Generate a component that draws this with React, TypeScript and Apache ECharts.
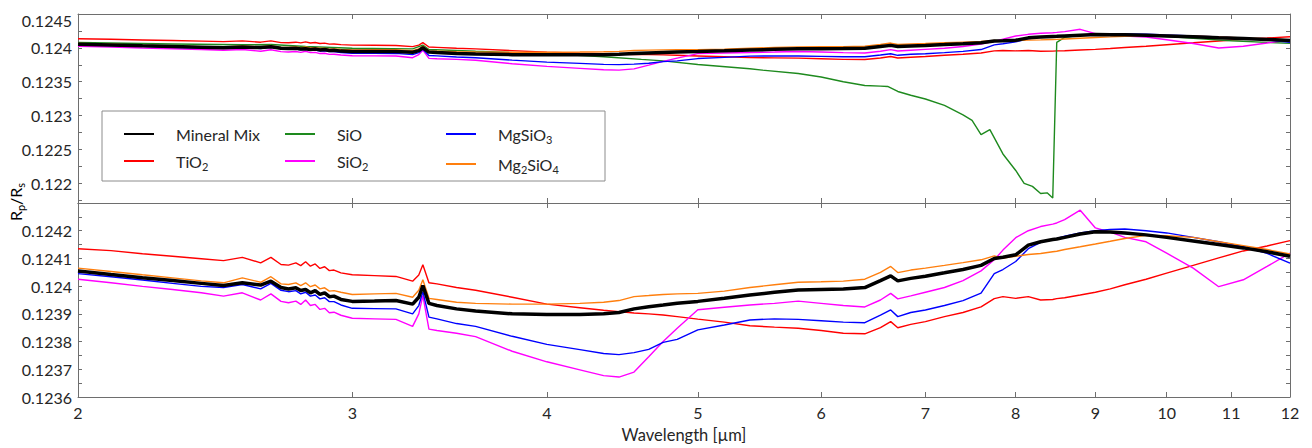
import React, { useEffect, useRef } from 'react';
import * as echarts from 'echarts';

// Wavelength grid (µm) shared by the mineral curves
const wavelength = [
  2.0, 2.1, 2.2, 2.3, 2.4, 2.48, 2.55, 2.62, 2.66, 2.7,
  2.73, 2.76, 2.78, 2.8, 2.82, 2.84, 2.86, 2.88, 2.9, 2.92,
  2.95, 3.0, 3.1, 3.2, 3.28, 3.31,
  3.33, 3.36, 3.4, 3.5, 3.6, 3.8, 4.0, 4.2, 4.35, 4.45,
  4.55, 4.65, 4.75, 4.85, 5.0, 5.2, 5.4, 5.6, 5.8, 6.0,
  6.2, 6.4, 6.55, 6.65, 6.72, 6.85, 7.0, 7.2, 7.4, 7.6,
  7.75, 7.85, 8.0, 8.15, 8.3, 8.45, 8.5, 8.6, 8.8, 9.0,
  9.2, 9.4, 9.7, 10.0, 10.4, 10.8, 11.2, 11.6, 12.0,
];

const mineralMix = [
  0.124055, 0.124042, 0.12403, 0.12402, 0.12401, 0.124002, 0.124012, 0.124004, 0.124018, 0.123995,
  0.12399, 0.123994, 0.123984, 0.123988, 0.123976, 0.123984, 0.12397, 0.123976, 0.123962, 0.123964,
  0.123952, 0.123945, 0.123946, 0.123948, 0.123935, 0.12396,
  0.124002, 0.123938, 0.12393, 0.123918, 0.12391, 0.1239, 0.123898, 0.123898, 0.1239, 0.123905,
  0.123918, 0.123926, 0.123932, 0.123938, 0.123945, 0.123956, 0.123968, 0.123978, 0.123986, 0.123988,
  0.12399, 0.123995, 0.12402, 0.124037, 0.124019, 0.124028, 0.124036, 0.124048, 0.12406, 0.124075,
  0.1241, 0.124104, 0.124113, 0.124148, 0.12416, 0.124168, 0.12417, 0.124176, 0.124188, 0.124196,
  0.124195, 0.124192, 0.124185, 0.124176, 0.124163, 0.12415, 0.124138, 0.124124, 0.124108,
];

const tio2 = [
  0.124135, 0.124128, 0.124117, 0.124108, 0.124099, 0.124092, 0.124104, 0.124084, 0.124104, 0.124078,
  0.124076, 0.124084, 0.124074, 0.124088, 0.124072, 0.12408, 0.124064, 0.12407, 0.124056, 0.124058,
  0.124048, 0.124041, 0.124038, 0.124035, 0.124018, 0.12404,
  0.124077, 0.124012, 0.124008, 0.123995, 0.123985, 0.12396, 0.123935, 0.123922, 0.123913, 0.123908,
  0.123903, 0.1239, 0.123896, 0.12389, 0.123881, 0.12387, 0.123857, 0.123852, 0.123848, 0.12384,
  0.12383, 0.123828, 0.12385, 0.123872, 0.12385, 0.123862, 0.123872, 0.12389, 0.123905, 0.123925,
  0.123955, 0.123962, 0.123956, 0.123962, 0.12395, 0.123952, 0.123955, 0.123958, 0.123968, 0.123978,
  0.12399, 0.124005, 0.124025, 0.124047, 0.124075, 0.124102, 0.124127, 0.124145, 0.124164,
];

const sio2 = [
  0.124025, 0.124012, 0.123999, 0.123988, 0.123976, 0.123964, 0.123976, 0.12395, 0.123972, 0.123945,
  0.12394, 0.123946, 0.123934, 0.12395, 0.12393, 0.123934, 0.123916, 0.12392, 0.123904, 0.123906,
  0.123895, 0.123884, 0.123882, 0.12388, 0.123855, 0.1239,
  0.123966, 0.123845, 0.12384, 0.12383, 0.123818, 0.123765, 0.123727, 0.123698, 0.123677, 0.123672,
  0.12369, 0.123745, 0.1238, 0.123848, 0.123915, 0.123924, 0.123932, 0.123938, 0.123946, 0.123938,
  0.12393, 0.123925, 0.12395, 0.123974, 0.123954, 0.123965, 0.123978, 0.123995, 0.12402, 0.124055,
  0.124095, 0.12413, 0.124175, 0.1242, 0.124215, 0.124224, 0.124228, 0.12424, 0.124274, 0.12421,
  0.124195, 0.124176, 0.12416, 0.124119, 0.124065, 0.123998, 0.124023, 0.124071, 0.124119,
];

const mgsio3 = [
  0.124045, 0.124034, 0.124022, 0.12401, 0.123999, 0.123995, 0.124006, 0.12399, 0.12401, 0.123985,
  0.12398, 0.123984, 0.123972, 0.123978, 0.123964, 0.123968, 0.123954, 0.123958, 0.123944, 0.123944,
  0.123932, 0.12392, 0.123919, 0.123918, 0.1239, 0.12393,
  0.12398, 0.123888, 0.123882, 0.123865, 0.123855, 0.123819, 0.12379, 0.123771, 0.123757, 0.123753,
  0.12376, 0.123772, 0.123797, 0.123808, 0.123842, 0.12386, 0.123878, 0.123882, 0.12388, 0.123875,
  0.12387, 0.123868, 0.123895, 0.123914, 0.12389, 0.123905, 0.123914, 0.12393, 0.123948, 0.123975,
  0.124045, 0.12406, 0.124089, 0.124135, 0.124158, 0.124168, 0.124172, 0.12418, 0.124192, 0.1242,
  0.124205, 0.124206, 0.1242, 0.124192, 0.124176, 0.12416, 0.124142, 0.124118, 0.124083,
];

const mg2sio4 = [
  0.124065, 0.124053, 0.124041, 0.12403, 0.124019, 0.124012, 0.12403, 0.124014, 0.124034, 0.124008,
  0.124006, 0.124012, 0.124002, 0.124012, 0.123998, 0.124004, 0.12399, 0.123994, 0.123982, 0.123984,
  0.123978, 0.12397, 0.123972, 0.123974, 0.12396, 0.123985,
  0.124023, 0.123956, 0.123952, 0.123942, 0.123938, 0.123935, 0.123935, 0.123938, 0.123942, 0.123948,
  0.123962, 0.123966, 0.12397, 0.123972, 0.123974, 0.123982, 0.123995, 0.124005, 0.124014, 0.124016,
  0.124018, 0.124025, 0.12405, 0.124071, 0.124049, 0.124058, 0.124065, 0.124075, 0.124085, 0.124095,
  0.124109, 0.124101, 0.124108, 0.124114, 0.124118, 0.124124, 0.124126, 0.124132, 0.124142, 0.124152,
  0.124162, 0.124172, 0.124183, 0.124182, 0.124176, 0.12416, 0.124146, 0.124132, 0.124116,
];

// SiO has its own sampling around the deep feature near 8.4 µm
const sioWavelength = [
  2.0, 2.3, 2.55, 2.66, 2.8, 3.0, 3.28, 3.33, 3.36, 3.6,
  4.0, 4.35, 4.6, 4.75, 5.0, 5.4, 5.5, 5.8, 6.0, 6.2,
  6.4, 6.55, 6.62, 6.72, 6.85, 7.0, 7.2, 7.4, 7.5, 7.6,
  7.7, 7.85, 8.0, 8.1, 8.2, 8.3, 8.38, 8.45, 8.5, 8.6,
  8.8, 9.2, 9.7, 10.4, 11.0, 12.0,
];
const sio = [
  0.12408, 0.124058, 0.124045, 0.12405, 0.12402, 0.123995, 0.123985, 0.12404, 0.123975, 0.12395,
  0.123915, 0.12387, 0.12383, 0.123808, 0.123754, 0.123692, 0.123672, 0.123622, 0.12357, 0.1235,
  0.123445, 0.123435, 0.12343, 0.123356, 0.1233, 0.123245, 0.12315, 0.12301, 0.12293, 0.12272,
  0.122794, 0.122434, 0.12219, 0.122, 0.121955, 0.12185, 0.12186, 0.121785, 0.12408, 0.124155,
  0.124185, 0.1242, 0.12419, 0.12414, 0.124105, 0.124066,
];

const xTicks = [2, 3, 4, 5, 6, 7, 8, 9, 10, 11, 12];
const topYLabels = [0.122, 0.1225, 0.123, 0.1235, 0.124, 0.1245];
const topYTicks = [
  0.12175, 0.122, 0.12225, 0.1225, 0.12275, 0.123, 0.12325, 0.1235, 0.12375, 0.124, 0.12425, 0.1245,
];
const bottomYLabels = [0.1236, 0.1237, 0.1238, 0.1239, 0.124, 0.1241, 0.1242];
const bottomYTicks = [
  0.1236, 0.12365, 0.1237, 0.12375, 0.1238, 0.12385, 0.1239, 0.12395, 0.124, 0.12405,
  0.1241, 0.12415, 0.1242, 0.12425, 0.1243,
];

const FONT = 'Lato, "Noto Sans", sans-serif';
const TEXT = '#262626';
const AXIS = '#6e6e6e';
const TOP_MAX = 0.1245;

const colors: Record<string, string> = {
  'Mineral Mix': '#000000',
  TiO2: '#ff0000',
  SiO: '#1e8a1e',
  SiO2: '#ff00ff',
  MgSiO3: '#0000ff',
  Mg2SiO4: '#ff7f0e',
};

const richNames: Record<string, string> = {
  'Mineral Mix': '{n|Mineral Mix}',
  TiO2: '{n|TiO}{s|2}',
  SiO: '{n|SiO}',
  SiO2: '{n|SiO}{s|2}',
  MgSiO3: '{n|MgSiO}{s|3}',
  Mg2SiO4: '{n|Mg}{s|2}{n|SiO}{s|4}',
};

const rich = {
  n: { fontSize: 16, fontFamily: FONT, color: TEXT, lineHeight: 22 },
  s: { fontSize: 11, fontFamily: FONT, color: TEXT, verticalAlign: 'bottom' as const },
};

const pairs = (xs: number[], ys: number[]) => xs.map((x, i) => [x, ys[i]]);

const curves: { name: string; xs: number[]; ys: number[]; top: boolean; bottom: boolean }[] = [
  { name: 'TiO2', xs: wavelength, ys: tio2, top: true, bottom: true },
  { name: 'SiO', xs: sioWavelength, ys: sio, top: true, bottom: false },
  { name: 'SiO2', xs: wavelength, ys: sio2, top: true, bottom: true },
  { name: 'MgSiO3', xs: wavelength, ys: mgsio3, top: true, bottom: true },
  { name: 'Mg2SiO4', xs: wavelength, ys: mg2sio4, top: true, bottom: true },
  { name: 'Mineral Mix', xs: wavelength, ys: mineralMix, top: true, bottom: true },
];

// the top-most label is pushed a little below its tick so it stays inside the figure
const fmtY = (v: number) => {
  const s = String(+v.toFixed(5));
  return Math.abs(v - TOP_MAX) < 1e-9 ? `{g| }\n{v|${s}}` : s;
};

const labelRich = {
  g: { fontSize: 16, fontFamily: FONT, color: TEXT, lineHeight: 12 },
  v: { fontSize: 16, fontFamily: FONT, color: TEXT, lineHeight: 12 },
};

function xAxis(gridIndex: number, position: 'top' | 'bottom', labels: boolean, name?: string) {
  return {
    type: 'log' as const,
    logBase: 10,
    gridIndex,
    position,
    min: 2,
    max: 12,
    name,
    nameLocation: 'middle' as const,
    nameGap: 29,
    nameTextStyle: { fontSize: 16.5, fontFamily: FONT, color: TEXT },
    axisLine: { show: true, onZero: false, lineStyle: { color: AXIS, width: 1 } },
    axisTick: { show: true, inside: true, length: 5, customValues: xTicks, lineStyle: { color: AXIS } },
    minorTick: { show: false },
    axisLabel: {
      show: labels,
      customValues: xTicks,
      fontSize: 16,
      fontFamily: FONT,
      color: TEXT,
      margin: 7,
    },
    splitLine: { show: false },
  };
}

function yAxis(
  gridIndex: number,
  position: 'left' | 'right',
  min: number,
  max: number,
  labels: number[],
  ticks: number[],
  showLabels: boolean,
) {
  return {
    type: 'value' as const,
    gridIndex,
    position,
    min,
    max,
    scale: true,
    axisLine: { show: true, onZero: false, lineStyle: { color: AXIS, width: 1 } },
    axisTick: { show: true, inside: true, length: 4, customValues: ticks, lineStyle: { color: AXIS } },
    axisLabel: {
      show: showLabels,
      customValues: labels,
      formatter: fmtY,
      fontSize: 16,
      fontFamily: FONT,
      color: TEXT,
      margin: 6,
      rich: labelRich,
    },
    splitLine: { show: false },
  };
}

function lineSeries(c: (typeof curves)[number], xAxisIndex: number, yAxisIndex: number) {
  const isMix = c.name === 'Mineral Mix';
  return {
    type: 'line' as const,
    name: c.name,
    xAxisIndex,
    yAxisIndex,
    data: pairs(c.xs, c.ys),
    showSymbol: false,
    symbol: 'none',
    color: colors[c.name],
    lineStyle: { color: colors[c.name], width: isMix ? 3.5 : 1.4 },
    z: isMix ? 3 : 2,
  };
}

function legend(names: string[], left: number) {
  return {
    data: names,
    orient: 'vertical' as const,
    left,
    top: 126,
    itemWidth: 30,
    itemHeight: 14,
    itemGap: 11,
    padding: 0,
    itemStyle: { opacity: 0 },
    formatter: (name: string) => richNames[name],
    textStyle: { fontSize: 16, fontFamily: FONT, color: TEXT, rich, padding: [0, 0, 0, 17] },
  };
}

export default function App() {
  const ref = useRef<HTMLDivElement>(null);

  useEffect(() => {
    if (!ref.current) return;
    const chart = echarts.init(ref.current, undefined, { renderer: 'svg' });

    const series: any[] = [];
    curves.forEach((c) => {
      if (c.top) series.push(lineSeries(c, 0, 0));
    });
    curves.forEach((c) => {
      if (c.bottom) series.push(lineSeries(c, 2, 2));
    });

    chart.setOption({
      animation: false,
      backgroundColor: '#ffffff',
      textStyle: { fontFamily: FONT },
      grid: [
        { left: 78, right: 22, top: 10, height: 193 },
        { left: 78, right: 22, top: 203, height: 194 },
      ],
      xAxis: [
        xAxis(0, 'bottom', false),
        xAxis(0, 'top', false),
        xAxis(1, 'bottom', true, 'Wavelength [µm]'),
        xAxis(1, 'top', false),
      ],
      yAxis: [
        yAxis(0, 'left', 0.12171, TOP_MAX, topYLabels, topYTicks, true),
        yAxis(0, 'right', 0.12171, TOP_MAX, topYLabels, topYTicks, false),
        yAxis(1, 'left', 0.1236, 0.1243, bottomYLabels, bottomYTicks, true),
        yAxis(1, 'right', 0.1236, 0.1243, bottomYLabels, bottomYTicks, false),
      ],
      legend: [
        legend(['Mineral Mix', 'TiO2'], 123),
        legend(['SiO', 'SiO2'], 284),
        legend(['MgSiO3', 'Mg2SiO4'], 445),
      ],
      graphic: [
        {
          type: 'rect',
          z: 3,
          shape: { x: 102, y: 111, width: 503, height: 70 },
          style: { fill: '#ffffff', stroke: '#8c8c8c', lineWidth: 1 },
        },
        {
          type: 'text',
          x: 15,
          y: 202,
          rotation: Math.PI / 2,
          style: {
            text: '{n|R}{s|p}{n|/R}{s|s}',
            rich,
            align: 'center',
            verticalAlign: 'middle',
          },
        },
      ],
      series,
    });

    return () => chart.dispose();
  }, []);

  return (
    <div
      ref={ref}
      style={{ position: 'absolute', left: 0, top: 0, width: 1312, height: 448 }}
    />
  );
}
